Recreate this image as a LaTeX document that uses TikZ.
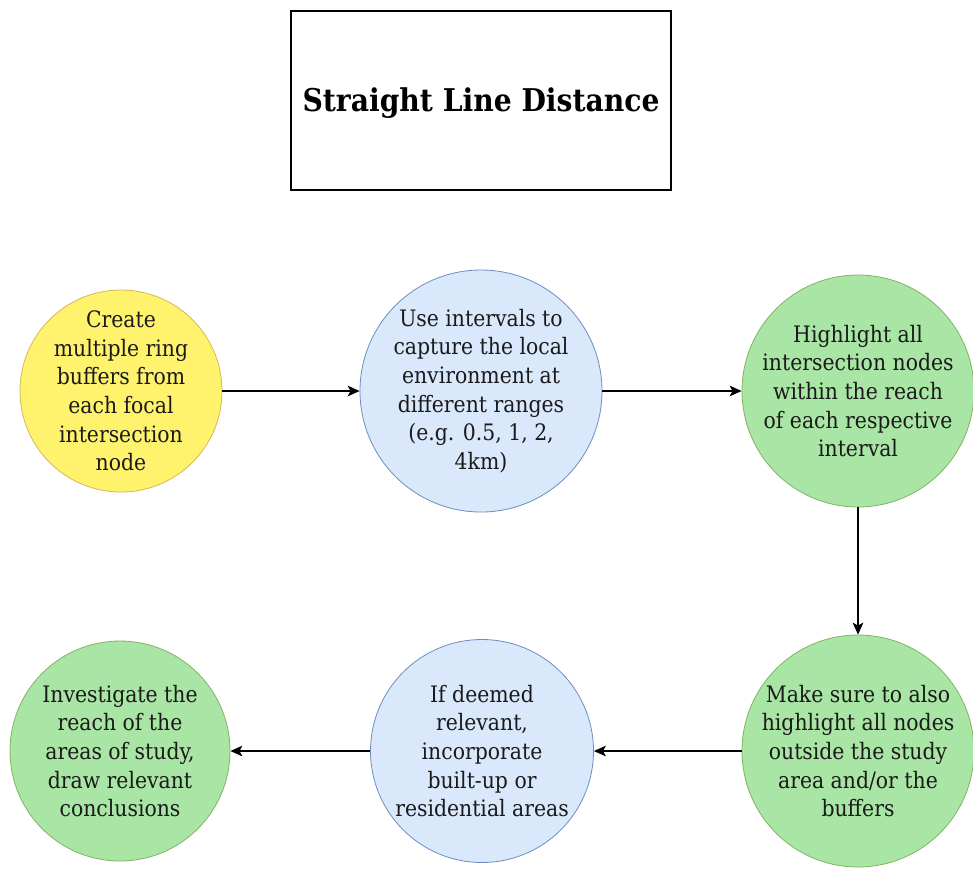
\documentclass[tikz,border=0pt]{standalone}
\usepackage{fontspec}
\setmainfont{DejaVu Serif Condensed}
\usetikzlibrary{arrows.meta}
\definecolor{yfill}{HTML}{FFF36E}
\definecolor{ydraw}{HTML}{D6B656}
\definecolor{bfill}{HTML}{DAE8FC}
\definecolor{bdraw}{HTML}{6C8EBF}
\definecolor{gfill}{HTML}{A9E5A4}
\definecolor{gdraw}{HTML}{82B366}
\definecolor{txt}{HTML}{1A1A1A}
\begin{document}
\begin{tikzpicture}[x=0.75pt,y=-0.75pt,
  stepcircle/.style={circle, draw, line width=0.6pt, inner sep=0pt},
  steptext/.style={inner sep=0pt, align=center, font=\fontsize{17}{21.5}\selectfont, text=txt},
  ycirc/.style={stepcircle, fill=yfill, draw=ydraw},
  bcirc/.style={stepcircle, fill=bfill, draw=bdraw},
  gcirc/.style={stepcircle, fill=gfill, draw=gdraw},
  conn/.style={-{Stealth[length=9pt,width=8pt,inset=2.2pt]}, line width=0.8pt, black}]
\useasboundingbox (0,0) rectangle (973,868);
\node[draw, line width=0.9pt, minimum width=380*0.75pt, minimum height=179*0.75pt] (title) at (481,100.5) {};
\node[font=\bfseries\fontsize{23.5}{26}\selectfont] (titletext) at (481,103) {Straight Line Distance};
\node[ycirc, minimum size=202*0.75pt] (c1) at (121,391) {};
\node[steptext] (t1) at (c1) {Create\\multiple ring\\buffers from\\each focal\\intersection\\node};
\node[bcirc, minimum size=242*0.75pt] (c2) at (481,391) {};
\node[steptext] (t2) at (c2) {Use intervals to\\capture the local\\environment at\\different ranges\\(e.g. 0.5, 1, 2,\\4km)};
\node[gcirc, minimum size=232*0.75pt] (c3) at (858,391) {};
\node[steptext] (t3) at (c3) {Highlight all\\intersection nodes\\within the reach\\of each respective\\interval};
\node[gcirc, minimum size=232*0.75pt] (c4) at (858,751) {};
\node[steptext] (t4) at (c4) {Make sure to also\\highlight all nodes\\outside the study\\area and/or the\\buffers};
\node[bcirc, minimum size=223*0.75pt] (c5) at (482,751) {};
\node[steptext] (t5) at (c5) {If deemed\\relevant,\\incorporate\\built-up or\\residential areas};
\node[gcirc, minimum size=220*0.75pt] (c6) at (120,751) {};
\node[steptext] (t6) at (c6) {Investigate the\\reach of the\\areas of study,\\draw relevant\\conclusions};
\draw[conn] (c1) -- (c2);
\draw[conn] (c2) -- (c3);
\draw[conn] (c3) -- (c4);
\draw[conn] (c4) -- (c5);
\draw[conn] (c5) -- (c6);
\end{tikzpicture}
\end{document}
